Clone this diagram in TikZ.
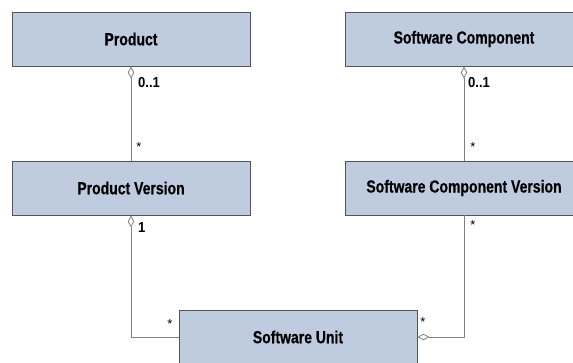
\documentclass[tikz,border=0pt]{standalone}
\usepackage{fontspec}
\setmainfont{Liberation Sans}
\newfontfamily\boxfont[FakeStretch=0.80, FakeBold=0.4]{Liberation Sans Bold}
\newfontfamily\multfont[FakeStretch=0.90]{Liberation Sans Bold}
\usetikzlibrary{arrows.meta}
\definecolor{classfill}{HTML}{BFCCE0}
\definecolor{classedge}{HTML}{555555}
\definecolor{linkgray}{HTML}{808080}
\tikzset{
  classbox/.style={draw=classedge, fill=classfill, line width=0.9pt,
    minimum width=238pt, minimum height=54pt, inner sep=0pt,
    font=\boxfont\fontsize{17.5}{20}\selectfont},
  link/.style={draw=linkgray, line width=0.9pt},
  aggr/.style={link, {Diamond[open, length=12pt, width=6.5pt, line width=0.8pt]}-},
  mult/.style={inner sep=0pt, font=\multfont\fontsize{14.5}{16}\selectfont},
  many/.style={inner sep=0pt, font=\fontsize{13}{15}\selectfont}
}
\begin{document}
\begin{tikzpicture}[x=1pt, y=-1pt]
  \useasboundingbox (0,0) rectangle (573,363);
  \clip (0,0) rectangle (573,363);
  \fill[white] (0,0) rectangle (573,363);

  % classes
  \node[classbox] (p)   at (131,39)  {Product};
  \node[classbox] (sc)  at (464,39)  {Software Component};
  \node[classbox] (pv)  at (131,188) {Product Version};
  \node[classbox] (scv) at (464,188) {Software Component Version};
  \node[classbox] (su)  at (298,337) {Software Unit};

  % associations
  \draw[aggr] (p.south) -- (pv.north);
  \draw[aggr] (sc.south) -- (scv.north);
  \draw[aggr] (pv.south) |- (su.west);
  \draw[aggr] (su.east) -| (scv.south);

  % multiplicities
  \node[mult, anchor=west] (m1) at (138,83)  {0..1};
  \node[mult, anchor=west] (m2) at (468,83)  {0..1};
  \node[mult, anchor=west] (m3) at (138,228) {1};
  \node[many] (s1) at (139,147) {*};
  \node[many] (s2) at (473,147) {*};
  \node[many] (s3) at (473,225) {*};
  \node[many] (s4) at (170,324) {*};
  \node[many] (s5) at (423,322) {*};
\end{tikzpicture}
\end{document}
